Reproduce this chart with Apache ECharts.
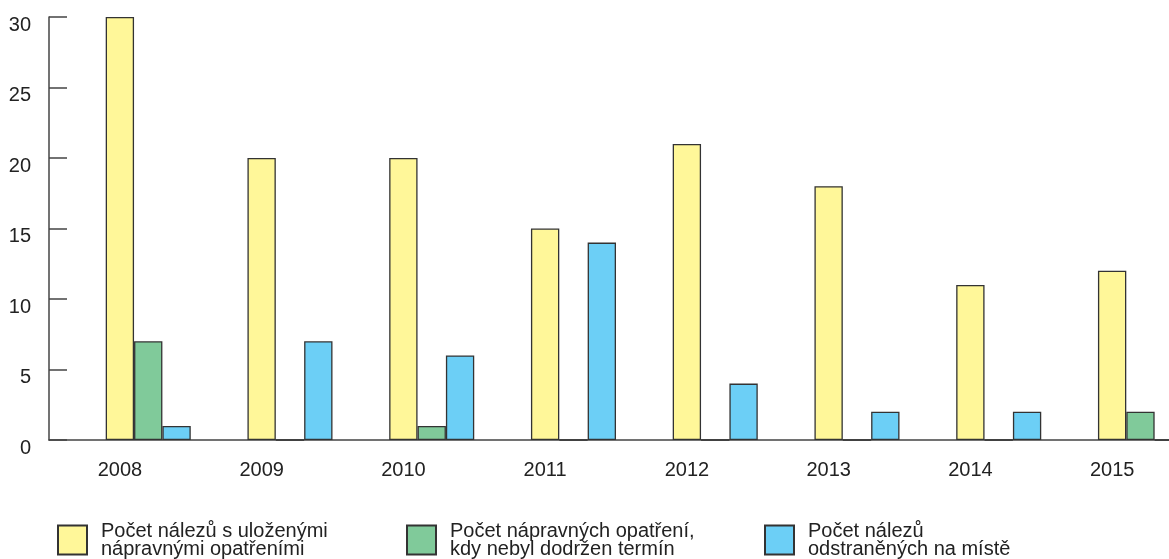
<!DOCTYPE html>
<html>
<head>
<meta charset="utf-8">
<script src="https://cdn.jsdelivr.net/npm/echarts@6/dist/echarts.min.js"></script>
<style>html,body{margin:0;padding:0;background:#fff}#c{width:1169px;height:559px}</style>
</head>
<body>
<div id="c"></div>
<script>
const categories = ['2008','2009','2010','2011','2012','2013','2014','2015'];
const seriesNames = ['Počet nálezů s uloženými\nnápravnými opatřeními', 'Počet nápravných opatření,\nkdy nebyl dodržen termín', 'Počet nálezů\nodstraněných na místě'];
const nalezyOpatreni = [30, 20, 20, 15, 21, 18, 11, 12];
const nedodrzenTermin = [7, 0, 1, 0, 0, 0, 0, 2];
const odstranenoNaMiste = [1, 7, 6, 14, 4, 2, 2, 0];
const yTicks = { min: 0, max: 30, interval: 5 };

const colors = ['#FFF799', '#80CA9A', '#6CCFF6'];
const FONT = '"Liberation Sans", Arial, sans-serif';
const chart = echarts.init(document.getElementById('c'), null, { renderer: 'canvas' });

const barBase = {
  type: 'bar',
  barWidth: '20%',
  barGap: '0%',
  animation: false
};
const emptyData = categories.map(() => null);
const realData = [nalezyOpatreni, nedodrzenTermin, odstranenoNaMiste];

const series = [
  Object.assign({}, barBase, { name: '_a', data: emptyData }),
  Object.assign({}, barBase, { name: '_b', data: emptyData })
].concat(realData.map((d, i) => Object.assign({}, barBase, {
  name: seriesNames[i],
  data: d,
  itemStyle: { color: colors[i], borderColor: '#333', borderWidth: 1.3 }
})));

const legendLefts = [57, 406, 764];
const legends = seriesNames.map((n, i) => ({
  data: [n],
  left: legendLefts[i],
  top: 521,
  padding: 0,
  itemWidth: 29,
  itemHeight: 29,
  icon: 'rect',
  selectedMode: false,
  textStyle: { fontFamily: FONT, fontSize: 20, lineHeight: 18, color: '#222', padding: [0, 0, 0, 9] }
}));

chart.setOption({
  animation: false,
  grid: { left: 49, top: 17, width: 1134, bottom: 119, containLabel: false, outerBoundsMode: 'none' },
  legend: legends,
  xAxis: {
    type: 'category',
    data: categories,
    axisLine: { show: true, lineStyle: { color: '#444', width: 1.5 } },
    axisTick: { show: false },
    axisLabel: { fontFamily: FONT, fontSize: 20, lineHeight: 20, color: '#222', margin: 20 },
    splitLine: { show: false }
  },
  yAxis: {
    type: 'value',
    min: yTicks.min,
    max: yTicks.max,
    interval: yTicks.interval,
    axisLine: { show: true, lineStyle: { color: '#444', width: 1.5 } },
    axisTick: { show: true, inside: true, length: 18, lineStyle: { color: '#444', width: 1.5 } },
    axisLabel: { fontFamily: FONT, fontSize: 20, lineHeight: 16, color: '#222', margin: 18, verticalAlign: 'top' },
    splitLine: { show: false }
  },
  series: series
});
</script>
</body>
</html>
